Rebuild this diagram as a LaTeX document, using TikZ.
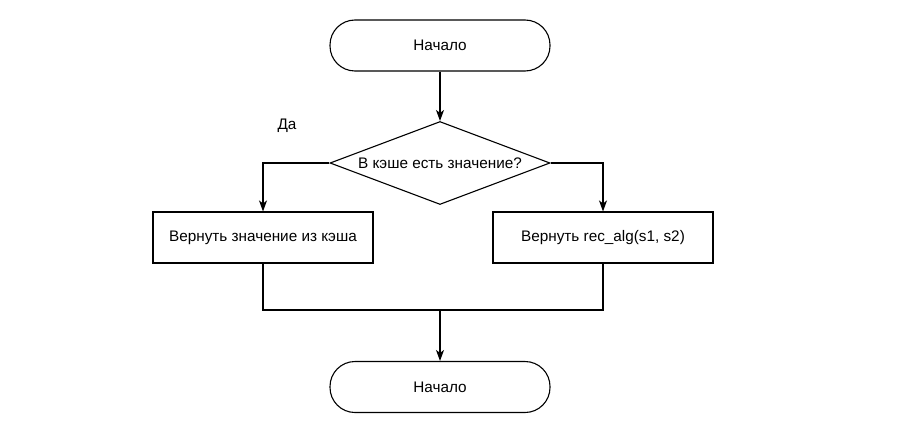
\documentclass[tikz,border=0pt]{standalone}
\usepackage{fontspec}
\setmainfont{Liberation Sans}
\usetikzlibrary{shapes.geometric,arrows.meta}
\begin{document}
\begin{tikzpicture}[x=1pt,y=-1pt,
  every node/.style={font=\fontsize{15.3}{18}\selectfont},
  term/.style={draw,line width=1.1pt,rounded corners=25pt,minimum width=220pt,minimum height=51pt,inner sep=0pt},
  proc/.style={draw,line width=1.1pt,minimum width=220pt,minimum height=51pt,inner sep=0pt},
  decis/.style={draw,line width=1.1pt,diamond,aspect=2.65,minimum width=220pt,minimum height=83pt,inner sep=0pt},
  conn/.style={line width=1.1pt,-{Stealth[length=11pt,width=8pt,inset=3pt]}},
  plain/.style={line width=1.1pt}]
\useasboundingbox (0,0) rectangle (923,436);
\node[term] (start) at (440,45.5) {Начало};
\node[decis] (dec) at (440,163) {В кэше есть значение?};
\node[proc] (left) at (263,237.5) {Вернуть значение из кэша};
\node[proc] (right) at (603,237.5) {Вернуть rec\_alg(s1, s2)};
\node[term] (end) at (440,387) {Начало};
\node (yes) at (287,126) {Да};
\coordinate (m) at (440,310);
\draw[conn] (start) -- (dec);
\draw[conn] (dec.west) -| (left.north);
\draw[conn] (dec.east) -| (right.north);
\draw[plain] (left.south) |- (m);
\draw[plain] (right.south) |- (m);
\draw[conn] (m) -- (end.north);
\end{tikzpicture}
\end{document}
